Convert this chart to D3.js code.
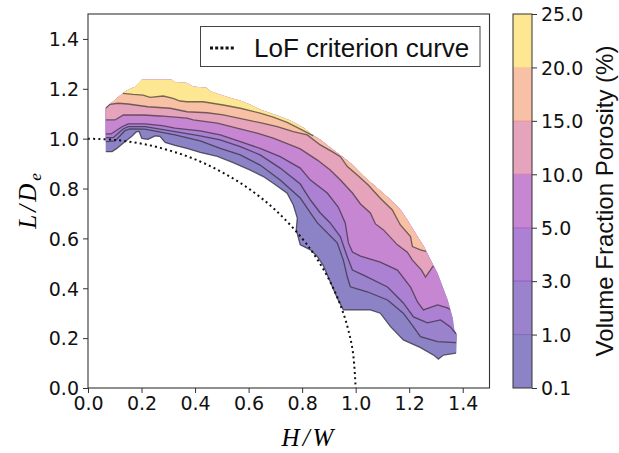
<!DOCTYPE html>
<html>
<head>
<meta charset="utf-8">
<script src="https://cdn.jsdelivr.net/npm/d3@7/dist/d3.min.js"></script>
<style>
  body { margin: 0; background: #fff; }
  svg { display: block; }
  .tick text { font-family: "DejaVu Sans", sans-serif; font-size: 19px; fill: #111; }
  .tick line { stroke: #333; }
  .domain { stroke: none; }
</style>
</head>
<body>
<div class="container"></div>
<script>
// contour levels (%) and the boundary of each level as [H/W, L/De]
const levels = [0.1, 1.0, 3.0, 5.0, 10.0, 15.0, 20.0, 25.0]
const levelLabels = ['0.1', '1.0', '3.0', '5.0', '10.0', '15.0', '20.0', '25.0']

// upper edge of the measured region
const topEdge = [[0.067,1.123],[0.094,1.148],[0.131,1.182],[0.150,1.195],[0.176,1.206],[0.201,1.235],[0.313,1.235],[0.325,1.225],[0.369,1.222],[0.394,1.207],[0.444,1.202],[0.456,1.189],[0.494,1.175],[0.531,1.162],[0.569,1.151],[0.606,1.135],[0.643,1.115],[0.681,1.101],[0.718,1.087],[0.756,1.071],[0.804,1.043],[0.842,1.011],[0.868,0.995],[0.905,0.963],[0.924,0.948],[0.980,0.902],[1.030,0.848],[1.074,0.807],[1.123,0.761],[1.167,0.714],[1.192,0.674],[1.230,0.607],[1.254,0.567],[1.279,0.513],[1.304,0.461],[1.342,0.353],[1.361,0.281],[1.367,0.233],[1.377,0.213]]

const line01 = [[0.067,0.948],[0.090,0.948],[0.108,0.961],[0.138,0.988],[0.165,1.011],[0.180,1.027],[0.191,1.029],[0.201,1.001],[0.224,0.997],[0.251,1.011],[0.269,1.009],[0.288,0.985],[0.325,0.973],[0.370,0.961],[0.419,0.945],[0.483,0.929],[0.542,0.904],[0.606,0.874],[0.655,0.848],[0.692,0.821],[0.744,0.781],[0.767,0.734],[0.782,0.682],[0.778,0.634],[0.793,0.574],[0.831,0.554],[0.857,0.527],[0.879,0.491],[0.905,0.426],[0.931,0.361],[0.954,0.313],[1.055,0.313],[1.092,0.300],[1.130,0.246],[1.178,0.193],[1.242,0.162],[1.291,0.132],[1.309,0.116],[1.328,0.132],[1.375,0.140]]

const line1 = [[0.067,0.988],[0.101,0.991],[0.138,1.032],[0.157,1.039],[0.213,1.038],[0.325,1.015],[0.419,0.991],[0.494,0.961],[0.569,0.935],[0.643,0.894],[0.718,0.834],[0.793,0.762],[0.831,0.702],[0.857,0.662],[0.894,0.622],[0.931,0.582],[0.954,0.513],[0.969,0.445],[0.980,0.406],[1.043,0.386],[1.119,0.353],[1.178,0.300],[1.216,0.245],[1.242,0.206],[1.306,0.186],[1.375,0.182]]

const line3 = [[0.067,1.004],[0.094,1.004],[0.131,1.039],[0.150,1.048],[0.213,1.048],[0.325,1.028],[0.419,1.011],[0.494,0.995],[0.569,0.968],[0.643,0.935],[0.718,0.882],[0.793,0.818],[0.831,0.754],[0.868,0.702],[0.905,0.662],[0.943,0.606],[0.969,0.525],[0.988,0.473],[1.029,0.453],[1.119,0.405],[1.178,0.341],[1.216,0.285],[1.268,0.261],[1.317,0.273],[1.354,0.245],[1.375,0.217]]

const line5 = [[0.067,1.019],[0.086,1.019],[0.127,1.048],[0.150,1.059],[0.213,1.059],[0.277,1.052],[0.325,1.042],[0.419,1.031],[0.494,1.015],[0.569,0.988],[0.643,0.961],[0.718,0.928],[0.793,0.882],[0.831,0.834],[0.894,0.782],[0.935,0.726],[0.961,0.662],[0.973,0.582],[0.988,0.545],[1.018,0.529],[1.092,0.505],[1.156,0.473],[1.205,0.405],[1.231,0.345],[1.253,0.313],[1.306,0.333],[1.343,0.321],[1.352,0.315]]

const line10 = [[0.067,1.075],[0.101,1.075],[0.132,1.095],[0.206,1.095],[0.269,1.091],[0.370,1.082],[0.393,1.075],[0.483,1.062],[0.557,1.042],[0.632,1.022],[0.692,1.002],[0.756,0.975],[0.793,0.959],[0.857,0.914],[0.905,0.874],[0.943,0.834],[0.988,0.782],[1.018,0.738],[1.055,0.702],[1.074,0.658],[1.104,0.634],[1.156,0.574],[1.193,0.545],[1.212,0.513],[1.246,0.473],[1.261,0.445],[1.290,0.490]]

const line15 = [[0.067,1.123],[0.082,1.138],[0.112,1.142],[0.150,1.139],[0.224,1.128],[0.307,1.122],[0.370,1.108],[0.445,1.104],[0.505,1.095],[0.580,1.078],[0.643,1.064],[0.707,1.048],[0.767,1.028],[0.819,1.015],[0.868,0.975],[0.917,0.945],[0.943,0.928],[0.969,0.888],[1.006,0.854],[1.047,0.814],[1.092,0.761],[1.137,0.714],[1.167,0.654],[1.205,0.607],[1.212,0.567],[1.242,0.554],[1.263,0.548]]

const line20 = [[0.131,1.182],[0.168,1.178],[0.206,1.175],[0.232,1.166],[0.281,1.171],[0.318,1.162],[0.344,1.151],[0.370,1.148],[0.430,1.148],[0.505,1.135],[0.569,1.122],[0.643,1.102],[0.692,1.086],[0.744,1.065],[0.790,1.040],[0.842,1.011]]

const levelLines = [line01, line1, line3, line5, line10, line15, line20]

// dotted LoF criterion curve
const lofCurve = [[0,1],[0.1,0.995],[0.2,0.98],[0.3,0.954],[0.4,0.917],[0.5,0.866],[0.6,0.8],[0.7,0.714],[0.8,0.6],[0.85,0.527],[0.9,0.436],[0.94,0.341],[0.97,0.243],[0.99,0.141],[1.0,0.0]]

const xTicks = [0, 0.2, 0.4, 0.6, 0.8, 1.0, 1.2, 1.4]
const yTicks = [0, 0.2, 0.4, 0.6, 0.8, 1.0, 1.2, 1.4]

const W = 619, H = 453
let margin = { top: 14, left: 88, bottom: 65, right: 130 }

const svg = d3.select('.container').append('svg')
    .attr('width', W)
    .attr('height', H)

const x = d3.scaleLinear().domain([0, 1.5]).range([margin.left, W - margin.right + 0.5])
const y = d3.scaleLinear().domain([0, 1.5]).range([H - margin.bottom, margin.top])

// plasma at alpha 0.5 over white, one colour per filled layer
const norm = d3.scaleLinear().domain([levels[0], levels[levels.length - 1]]).range([0, 1])
const layerColor = i => {
    const mid = (levels[i] + levels[i + 1]) / 2
    return d3.interpolateRgb('#ffffff', d3.interpolatePlasma(norm(mid)))(0.5)
}

const line = d3.line().x(d => x(d[0])).y(d => y(d[1]))

// region above a level line, closed along the upper edge
function region(pts) {
    const x0 = pts[0][0], x1 = pts[pts.length - 1][0]
    const cap = topEdge.filter(p => p[0] >= x0 - 0.004 && p[0] <= x1 + 0.004).reverse()
    return pts.concat(cap)
}

const plot = svg.append('g')
levelLines.forEach((pts, i) => {
    plot.append('path')
        .attr('d', line(region(pts)) + 'Z')
        .attr('fill', layerColor(i))
        .attr('stroke', layerColor(i))
        .attr('stroke-width', 0.5)
})

// contour lines
levelLines.forEach(pts => {
    plot.append('path')
        .attr('d', line(pts))
        .attr('fill', 'none')
        .attr('stroke', '#1a1a1a')
        .attr('stroke-opacity', 0.6)
        .attr('stroke-width', 1.3)
})

// LoF curve
svg.append('path')
    .attr('d', d3.line().x(d => x(d[0])).y(d => y(d[1])).curve(d3.curveCatmullRom)(lofCurve))
    .attr('fill', 'none')
    .attr('stroke', '#111')
    .attr('stroke-width', 2)
    .attr('stroke-dasharray', '2,3.2')

// axes
svg.append('g')
    .attr('transform', `translate(0,${H - margin.bottom})`)
    .call(d3.axisBottom(x).tickValues(xTicks).tickFormat(d3.format('.1f')).tickSize(5).tickPadding(4))
svg.append('g')
    .attr('transform', `translate(${margin.left},0)`)
    .call(d3.axisLeft(y).tickValues(yTicks).tickFormat(d3.format('.1f')).tickSize(5).tickPadding(4))
    .selectAll('.tick text').attr('dy', '0.36em')

svg.append('rect')
    .attr('x', x(0)).attr('y', y(1.5))
    .attr('width', x(1.5) - x(0)).attr('height', y(0) - y(1.5))
    .attr('fill', 'none').attr('stroke', '#333').attr('stroke-width', 1.1)

// axis titles
svg.append('text')
    .attr('x', 309).attr('y', 446)
    .attr('text-anchor', 'middle')
    .style('font-family', '"Liberation Serif", serif')
    .style('font-style', 'italic')
    .style('font-size', '25px')
    .style('letter-spacing', '3px')
    .text('H/W')

const yTitle = svg.append('text')
    .attr('transform', 'translate(36,201) rotate(-90)')
    .attr('text-anchor', 'middle')
    .style('font-family', '"Liberation Serif", serif')
    .style('font-style', 'italic')
    .style('font-size', '25px')
yTitle.append('tspan').style('letter-spacing', '3px').text('L/D')
yTitle.append('tspan').attr('dy', 5).style('font-size', '17px').text('e')

// legend
svg.append('rect')
    .attr('x', 200.5).attr('y', 26.5).attr('width', 279.5).attr('height', 40)
    .attr('fill', '#fff').attr('stroke', '#444').attr('stroke-width', 1)
svg.append('line')
    .attr('x1', 210).attr('x2', 236).attr('y1', 48).attr('y2', 48)
    .attr('stroke', '#111').attr('stroke-width', 3).attr('stroke-dasharray', '3,2.2')
svg.append('text')
    .attr('x', 254).attr('y', 57)
    .style('font-family', '"Liberation Sans", Arial, sans-serif')
    .style('font-size', '26px')
    .style('fill', '#111')
    .text('LoF criterion curve')

// colour bar
const cb = { x: 513, w: 19 }
const cbY = d3.scalePoint().domain(levelLabels).range([H - margin.bottom, margin.top])
const cbar = svg.append('g')
levelLabels.slice(0, -1).forEach((lab, i) => {
    cbar.append('rect')
        .attr('x', cb.x).attr('width', cb.w)
        .attr('y', cbY(levelLabels[i + 1])).attr('height', cbY(lab) - cbY(levelLabels[i + 1]))
        .attr('fill', layerColor(i))
})
levelLabels.slice(1, -1).forEach((lab, i) => {
    cbar.append('line')
        .attr('x1', cb.x).attr('x2', cb.x + cb.w)
        .attr('y1', cbY(lab)).attr('y2', cbY(lab))
        .attr('stroke', d3.interpolatePlasma(norm(levels[i + 1])))
        .attr('stroke-opacity', 0.35)
})
cbar.append('rect')
    .attr('x', cb.x).attr('y', margin.top).attr('width', cb.w).attr('height', H - margin.bottom - margin.top)
    .attr('fill', 'none').attr('stroke', '#333').attr('stroke-width', 1)
svg.append('g')
    .attr('transform', `translate(${cb.x + cb.w},0)`)
    .call(d3.axisRight(cbY).tickSize(5).tickPadding(4))
    .selectAll('.tick text').attr('dy', '0.36em')

svg.append('text')
    .attr('transform', 'translate(613,201) rotate(-90)')
    .attr('text-anchor', 'middle')
    .style('font-family', '"Liberation Sans", Arial, sans-serif')
    .style('font-size', '24px')
    .style('fill', '#111')
    .text('Volume Fraction Porosity (%)')
</script>
</body>
</html>
